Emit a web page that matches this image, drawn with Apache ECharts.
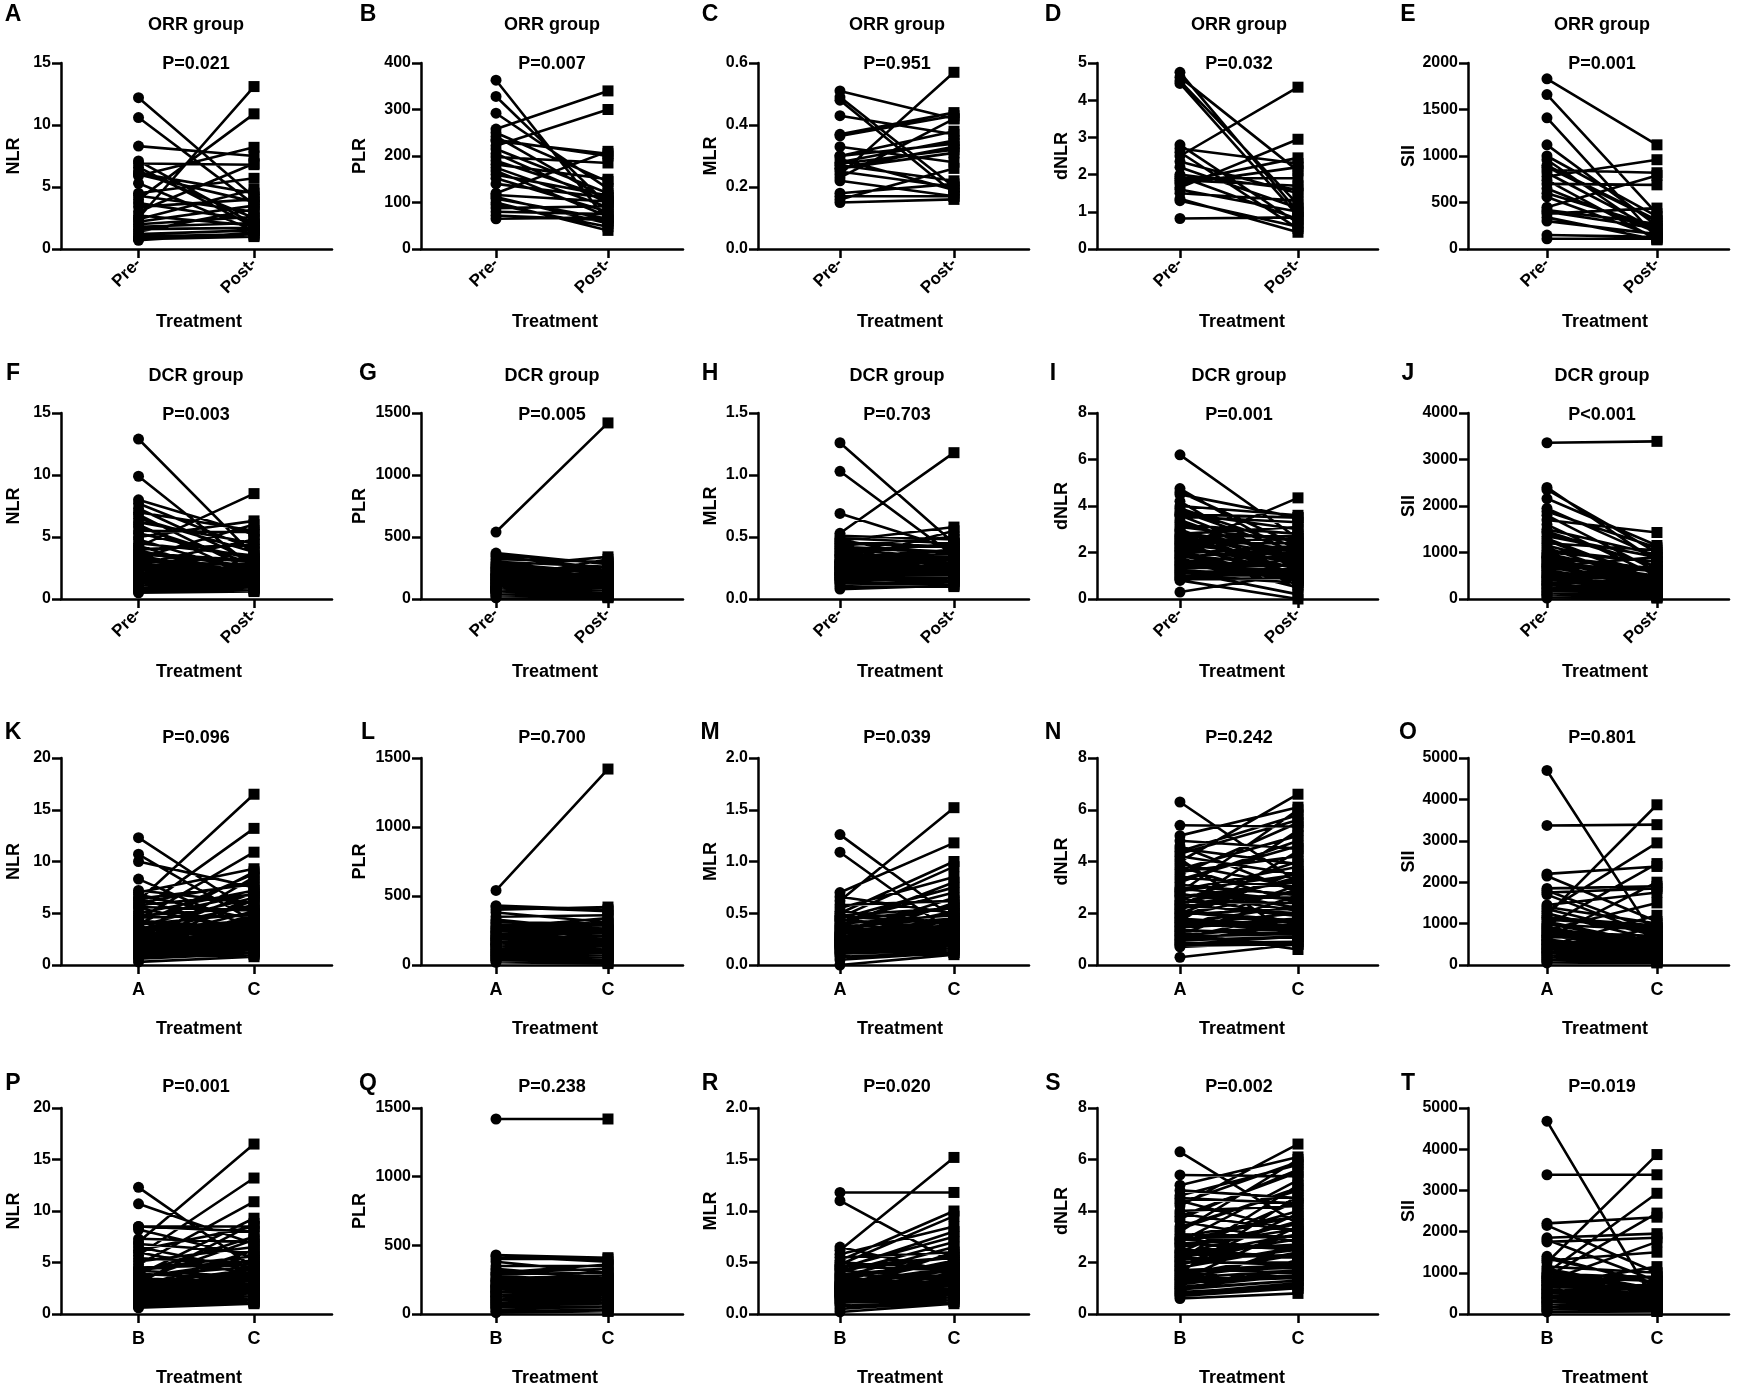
<!DOCTYPE html>
<html>
<head>
<meta charset="utf-8">
<title>Paired inflammatory markers</title>
<script src="https://cdn.jsdelivr.net/npm/echarts@6/dist/echarts.min.js"></script>
<style>
html, body { margin: 0; padding: 0; background: #fff; }
#main { width: 1737px; height: 1390px; }
</style>
</head>
<body>
<div id="main"></div>
<script>
// ---- values (one pair = one patient) ----
var A_pre  = [12.2,10.6,8.3,7.1,6.9,6.6,6.3,6.1,5.9,5.3,4.5,4.3,4.0,3.7,3.4,3.0,2.7,2.5,2.2,2.0,1.8,1.6,1.4,1.2,1.0,0.9,0.8,0.7,2.4,6.0];
var A_post = [4.2,3.6,7.5,2.0,6.8,1.8,2.5,4.5,8.2,1.5,5.7,3.0,10.9,2.3,4.0,6.9,1.9,13.1,3.5,2.6,2.1,1.7,3.2,1.5,1.2,1.1,1.0,1.3,4.8,3.8];
var B_pre  = [363,328,292,258,250,242,232,222,215,205,198,190,182,175,168,160,152,120,116,112,108,100,95,88,80,72,65,140,235];
var B_post = [60,95,130,340,145,105,205,300,120,100,185,110,150,90,70,115,80,210,102,55,65,40,48,92,75,62,68,110,200];
var C_pre  = [0.51,0.49,0.48,0.43,0.37,0.365,0.33,0.30,0.29,0.28,0.275,0.27,0.26,0.25,0.24,0.22,0.18,0.17,0.16,0.15,0.30,0.26,0.23];
var C_post = [0.42,0.20,0.18,0.37,0.44,0.43,0.28,0.34,0.19,0.35,0.32,0.22,0.31,0.20,0.57,0.17,0.21,0.17,0.26,0.16,0.38,0.33,0.42];
var D_pre  = [4.75,4.62,4.52,4.45,2.8,2.7,2.6,2.5,2.35,2.0,1.95,1.9,1.8,1.75,1.65,1.6,1.5,1.35,1.3,0.82,2.2,1.85];
var D_post = [1.0,2.1,1.2,0.9,0.7,2.3,0.55,4.35,1.5,1.6,0.8,1.9,2.45,2.2,2.95,1.0,1.3,0.45,0.6,0.85,1.1,1.7];
var E_pre  = [1830,1660,1410,1120,1000,960,880,850,820,780,740,700,650,560,450,420,400,380,340,300,150,110,900,600];
var E_post = [1120,380,120,250,350,150,300,820,200,960,100,690,180,130,790,270,220,440,100,160,130,110,310,240];

var F_pre  = [12.9,9.9,8.0,7.7,7.3,7.0,6.8,6.5,6.2,6.0,5.8,5.5,5.3,5.0,4.8,4.5,4.3,4.0,3.8,3.6,3.4,3.2,3.0,2.9,2.7,2.6,2.5,2.4,2.3,2.2,2.0,1.9,1.8,1.7,1.6,1.5,1.4,1.3,1.2,1.1,1.0,0.9,0.8,0.7,0.6,0.5,4.2,3.3,2.8,2.1,
              3.9,3.7,3.5,3.1,2.95,2.85,2.65,2.55,2.45,2.35,2.25,2.15,2.05,1.95,1.85,1.75,1.65,1.55,1.45,1.35,1.25,1.15,1.05,0.95,0.85];
var F_post = [3.5,2.5,5.2,4.0,3.0,5.5,2.2,3.8,4.5,1.8,2.8,5.4,3.2,6.3,2.0,3.5,1.5,4.4,2.6,3.0,2.2,1.9,3.3,1.6,2.4,1.4,2.9,1.2,2.0,1.7,1.5,2.1,1.3,1.8,1.1,1.6,1.2,1.0,1.4,0.9,1.1,0.8,1.0,0.9,0.7,0.6,8.5,6.0,4.8,1.3,
              2.0,3.1,1.8,2.7,1.6,2.3,1.9,2.2,1.5,2.6,1.7,1.4,2.4,1.2,1.9,1.3,2.1,1.1,1.6,1.0,1.5,1.2,0.9,1.3,1.0];
var G_pre  = [540,370,355,340,320,300,280,260,245,230,220,210,200,190,180,170,160,150,140,130,120,110,100,95,90,85,80,75,70,60,55,50,45,40,30,20,10,160,200,250,180,120,140,100,65,
              290,270,255,235,225,205,195,185,175,165,155,145,135,125,115,105,98,92,87,82,77,72,68,62,58];
var G_post = [1420,280,290,250,300,260,200,340,180,220,150,170,190,140,130,120,160,110,100,130,90,80,110,70,120,60,90,85,70,40,45,50,55,30,20,15,10,320,240,210,140,100,95,75,35,
              210,230,170,260,150,200,120,180,140,110,160,100,130,90,150,80,120,70,100,60,110,85,50,75,65];
var H_pre  = [1.26,1.03,0.69,0.53,0.51,0.49,0.47,0.45,0.43,0.41,0.39,0.37,0.35,0.33,0.31,0.30,0.29,0.28,0.27,0.26,0.25,0.24,0.23,0.22,0.21,0.20,0.19,0.18,0.17,0.16,0.15,0.14,0.13,0.12,0.10,0.08,0.30,0.25,0.35,0.20,
              0.48,0.46,0.44,0.42,0.40,0.38,0.36,0.34,0.32,0.305,0.295,0.285,0.275,0.265,0.255,0.245,0.235,0.225,0.215,0.205,0.195,0.185,0.175,0.165,0.155];
var H_post = [0.45,0.35,0.40,1.18,0.48,0.45,0.58,0.42,0.50,0.38,0.44,0.30,0.36,0.28,0.40,0.25,0.33,0.30,0.22,0.35,0.28,0.20,0.32,0.26,0.24,0.18,0.30,0.22,0.15,0.20,0.28,0.17,0.12,0.14,0.10,0.11,0.55,0.38,0.27,0.19,
              0.30,0.42,0.25,0.38,0.33,0.27,0.45,0.22,0.35,0.29,0.20,0.31,0.26,0.37,0.21,0.28,0.18,0.32,0.24,0.16,0.27,0.19,0.23,0.14,0.21];
var I_pre  = [6.2,4.75,4.6,4.5,4.2,4.0,3.8,3.65,3.55,3.4,3.2,3.0,2.9,2.8,2.6,2.5,2.4,2.3,2.2,2.1,2.0,1.9,1.8,1.7,1.6,1.5,1.4,1.3,1.2,1.1,1.0,0.9,0.85,0.8,0.3,2.7,1.75,3.6,1.45,2.05,
              3.9,3.7,3.3,3.1,2.95,2.75,2.65,2.55,2.45,2.35,2.25,2.15,1.95,1.85,1.65,1.55,1.35,1.25,1.15,1.05,0.95];
var I_post = [2.6,1.8,2.3,3.5,1.2,3.6,2.0,3.5,3.3,1.6,2.8,1.0,2.0,3.1,1.5,0.6,2.4,1.3,4.35,1.7,0.9,1.4,2.2,1.1,1.9,0.8,1.2,1.5,0.2,1.0,0.7,1.3,0.9,0.0,1.1,2.7,0.5,1.6,1.0,0.8,
              2.2,3.0,1.7,2.5,1.4,2.1,1.9,1.3,2.6,1.8,1.1,1.6,2.3,1.0,1.4,1.2,1.7,0.9,1.3,0.7,1.1];
var J_pre  = [3360,2400,2350,2160,1950,1880,1800,1700,1600,1500,1420,1300,1200,1100,1000,950,900,850,800,750,700,650,600,550,500,450,400,350,300,250,200,150,100,50,20,1250,900,700,480,320,
              1450,1350,1150,1050,980,920,870,820,770,720,670,620,570,520,470,420,380,330,280,230,180,130,80];
var J_post = [3390,800,1000,1150,900,1100,600,1430,500,950,700,400,1050,300,800,200,600,450,350,500,250,700,300,150,400,200,350,100,250,150,120,80,50,30,20,400,300,900,200,100,
              700,900,550,800,450,650,380,500,600,320,420,280,350,230,300,180,260,150,200,120,160,90,60];

var K_pre  = [12.3,10.7,10.0,8.3,7.2,7.0,6.8,6.5,6.2,6.0,5.8,5.5,5.2,5.0,4.8,4.6,4.4,4.2,4.0,3.8,3.6,3.4,3.2,3.0,2.9,2.8,2.7,2.6,2.5,2.4,2.3,2.2,2.1,2.0,1.9,1.8,1.7,1.6,1.5,1.4,1.3,1.2,1.1,1.0,0.9,0.8,0.6,0.3,6.4,5.6,3.5,2.9,4.5,3.1,
              4.3,3.9,3.7,3.3,3.05,2.85,2.65,2.45,2.35,2.25,2.15,2.05,1.95,1.85,1.75,1.65,1.55,1.45,1.35,1.25,1.15,1.05,0.95,0.85,0.7];
var K_post = [5.0,4.2,7.5,3.5,6.0,9.3,4.4,2.8,16.5,8.0,6.8,3.2,13.2,7.2,5.5,4.8,10.9,3.0,8.8,6.5,2.5,5.8,9.0,4.0,3.6,7.0,2.2,6.2,3.8,5.2,2.0,4.6,2.7,8.5,3.3,1.8,6.6,2.4,4.9,1.6,3.1,1.9,2.6,1.5,2.1,1.3,1.1,0.8,7.8,5.3,4.3,3.4,6.9,2.9,
              3.5,5.0,2.8,4.2,3.0,2.4,3.8,2.2,3.2,2.6,1.9,2.9,2.1,2.5,1.7,2.3,1.6,2.0,1.5,1.8,1.4,1.6,1.2,1.3,1.0];
var L_pre  = [540,430,420,400,380,350,330,310,290,270,250,240,230,220,210,200,190,180,170,160,150,140,130,120,110,100,90,80,70,60,50,40,30,20,260,300,190,150,125,175,
              320,280,265,245,235,215,205,195,185,165,155,145,135,115,105,95,85,75,65,55,45,35];
var L_post = [1420,400,390,420,310,360,250,300,220,340,210,260,180,230,170,190,160,200,150,140,180,120,130,110,160,100,120,90,110,70,60,80,20,10,280,240,150,130,140,200,
              250,290,200,230,180,260,150,210,170,140,190,120,160,100,130,110,90,80,70,60,50,30];
var M_pre  = [1.26,1.09,0.70,0.66,0.62,0.58,0.55,0.52,0.50,0.48,0.46,0.44,0.42,0.40,0.38,0.36,0.34,0.32,0.30,0.29,0.28,0.27,0.26,0.25,0.24,0.23,0.22,0.21,0.20,0.19,0.18,0.17,0.16,0.15,0.14,0.12,0.10,0.05,0.0,0.45,0.35,0.25,0.31,
              0.47,0.43,0.39,0.37,0.33,0.31,0.295,0.285,0.275,0.265,0.255,0.245,0.235,0.225,0.215,0.205,0.195,0.185,0.175,0.165,0.13,0.11,0.08];
var M_post = [0.45,0.30,1.18,0.50,1.52,0.62,0.85,0.40,1.00,0.55,0.95,0.35,0.70,0.48,0.80,0.30,0.58,0.42,0.65,0.25,0.52,0.38,0.45,0.28,0.60,0.33,0.22,0.40,0.30,0.26,0.35,0.20,0.28,0.18,0.24,0.15,0.20,0.12,0.10,0.75,0.50,0.37,0.44,
              0.40,0.55,0.32,0.45,0.38,0.28,0.42,0.30,0.35,0.25,0.33,0.27,0.30,0.22,0.29,0.24,0.26,0.20,0.23,0.18,0.16,0.14,0.12];
var N_pre  = [6.3,5.4,5.0,4.8,4.6,4.4,4.2,4.0,3.8,3.6,3.5,3.4,3.2,3.0,2.9,2.8,2.7,2.6,2.5,2.4,2.3,2.2,2.1,2.0,1.9,1.8,1.7,1.6,1.5,1.4,1.3,1.2,1.1,1.0,0.9,0.8,0.7,0.3,3.7,2.95,2.15,1.65,4.1,1.25,
              4.5,4.3,3.9,3.3,3.1,2.85,2.75,2.65,2.45,2.35,2.25,2.05,1.95,1.85,1.75,1.55,1.45,1.35,1.15,1.05,0.95,0.85,0.75];
var N_post = [3.2,5.35,6.1,4.5,2.8,5.8,3.5,6.6,2.4,4.2,5.5,3.0,4.8,2.2,3.8,6.0,2.6,1.9,4.0,3.3,2.0,5.2,1.7,3.6,2.9,1.5,4.4,2.3,1.8,3.1,1.4,2.7,1.2,2.1,1.6,1.1,0.9,0.8,5.0,2.5,3.4,1.3,1.0,0.6,
              3.9,5.6,3.0,4.6,2.7,3.5,2.1,3.2,2.4,1.9,2.8,1.6,2.2,3.6,1.4,2.0,1.7,1.2,1.5,1.3,1.1,0.9,0.8];
var O_pre  = [4700,3370,2200,2150,1850,1800,1750,1700,1450,1400,1300,1250,1200,1100,1000,950,900,850,800,750,700,650,600,550,500,450,400,350,300,250,200,150,100,50,1150,600,400,300,700,500,
              1350,1150,1050,980,920,870,820,770,720,670,620,570,520,470,420,380,330,280,230,180,130,80];
var O_post = [600,3390,2380,1050,1900,800,1850,700,1750,1000,2950,600,3870,900,500,2450,400,1500,700,350,600,2000,300,550,450,1200,250,400,300,200,350,150,100,50,800,250,900,200,500,150,
              700,950,500,850,450,600,380,550,320,650,280,420,250,350,200,300,180,220,150,120,100,60];

var P_pre  = [12.3,10.7,8.5,8.2,7.3,7.0,6.8,6.5,6.2,6.0,5.7,5.4,5.1,4.8,4.5,4.2,4.0,3.8,3.6,3.4,3.2,3.0,2.9,2.8,2.7,2.6,2.5,2.4,2.3,2.2,2.1,2.0,1.9,1.8,1.7,1.6,1.5,1.4,1.3,1.2,1.1,1.0,0.9,0.8,0.6,3.3,2.6,4.4,1.75,2.05,
              8.5,4.3,3.9,3.7,3.5,3.1,2.95,2.85,2.65,2.45,2.35,2.25,2.15,1.95,1.85,1.65,1.55,1.45,1.35,1.25,1.15,1.05,0.95,0.85,0.7];
var P_post = [4.5,6.8,8.0,5.5,7.0,16.5,6.0,4.2,8.5,3.8,13.2,5.0,6.5,10.9,4.8,3.6,7.5,9.3,5.2,3.2,4.0,8.8,3.0,4.4,2.8,6.2,3.4,2.5,5.8,3.1,2.2,4.6,2.7,3.5,2.0,2.6,1.8,3.3,1.6,2.4,1.5,2.1,1.3,1.2,1.0,7.2,3.9,5.6,2.9,1.9,
              8.5,5.2,3.4,4.6,2.9,4.1,3.2,2.6,3.6,2.4,3.0,2.2,2.7,2.0,2.5,1.9,2.3,1.7,2.1,1.6,1.8,1.4,1.5,1.2,1.1];
var Q_pre  = [1420,430,420,400,380,350,320,300,280,260,250,240,220,210,200,190,180,170,160,150,140,130,120,110,100,90,80,70,60,50,40,20,10,230,160,300,200,130,
              330,290,270,245,235,215,205,195,185,175,165,155,145,135,125,115,105,95,85,75,65,55,45,30];
var Q_post = [1420,410,380,400,300,350,260,330,230,280,210,250,190,240,170,220,160,200,150,180,140,130,160,110,120,90,100,70,80,40,60,30,20,270,190,360,210,110,
              260,300,220,250,190,240,170,210,150,200,130,180,120,160,100,140,90,120,80,100,70,60,50,20];
var R_pre  = [1.18,1.10,0.65,0.62,0.58,0.55,0.52,0.50,0.48,0.46,0.44,0.42,0.40,0.38,0.36,0.34,0.32,0.30,0.29,0.28,0.27,0.26,0.25,0.24,0.23,0.22,0.21,0.20,0.19,0.18,0.17,0.16,0.15,0.14,0.12,0.10,0.05,0.02,0.45,0.35,0.25,0.31,
              0.47,0.43,0.39,0.37,0.33,0.31,0.295,0.285,0.275,0.265,0.255,0.245,0.235,0.225,0.215,0.205,0.195,0.185,0.175,0.165,0.13,0.11,0.08];
var R_post = [1.18,0.50,0.40,1.52,0.85,0.60,1.00,0.45,0.95,0.55,0.80,0.35,0.70,0.48,0.65,0.30,0.58,0.42,0.52,0.25,0.38,0.45,0.28,0.60,0.33,0.22,0.40,0.30,0.26,0.35,0.20,0.28,0.18,0.24,0.15,0.20,0.12,0.10,0.75,0.50,0.37,0.44,
              0.42,0.55,0.32,0.48,0.38,0.28,0.45,0.30,0.36,0.25,0.33,0.27,0.31,0.22,0.29,0.24,0.26,0.20,0.23,0.18,0.16,0.14,0.12];
var S_pre  = [6.3,5.4,5.0,4.8,4.6,4.4,4.2,4.0,3.8,3.6,3.4,3.2,3.0,2.9,2.8,2.7,2.6,2.5,2.4,2.3,2.2,2.1,2.0,1.9,1.8,1.7,1.6,1.5,1.4,1.3,1.2,1.1,1.0,0.9,0.8,0.7,0.6,3.7,2.95,2.15,1.65,1.25,
              4.5,4.3,3.9,3.3,3.1,2.85,2.75,2.65,2.45,2.35,2.25,2.05,1.95,1.85,1.75,1.55,1.45,1.35,1.15,1.05,0.95,0.85,0.75];
var S_post = [3.5,5.35,6.1,4.5,5.8,3.2,6.6,4.2,5.5,2.8,4.8,6.0,3.8,2.5,5.2,4.0,3.3,2.2,4.4,3.6,2.9,5.0,2.0,3.1,2.6,1.9,4.6,2.4,1.7,3.4,1.5,2.7,1.3,2.1,1.2,1.0,0.8,5.6,3.0,2.3,1.8,1.4,
              4.3,5.9,3.2,4.9,3.0,3.8,2.5,3.5,2.7,2.2,3.1,1.9,2.5,3.9,1.6,2.3,2.0,1.5,1.7,1.5,1.3,1.1,1.0];
var T_pre  = [4680,3380,2200,2150,1850,1800,1750,1400,1300,1250,1100,1000,950,900,850,800,750,700,650,600,550,500,450,400,350,300,250,200,150,100,50,900,700,500,600,800,300,400,
              1350,1150,1050,980,920,870,820,770,720,670,620,570,520,470,420,380,330,280,230,180,130,80];
var T_post = [200,3380,2350,1000,1950,800,1850,700,1500,3870,600,2930,900,2450,500,1750,400,1150,600,350,700,450,300,550,250,400,200,150,350,100,60,800,300,500,200,900,250,150,
              750,1000,550,880,480,650,420,600,350,700,300,460,270,380,220,320,200,250,170,130,110,70];

// row / column text
var markers   = ['NLR', 'PLR', 'MLR', 'dNLR', 'SII'];
var rowGroups = ['ORR group', 'DCR group', '', ''];
var rowCats   = [['Pre-', 'Post-'], ['Pre-', 'Post-'], ['A', 'C'], ['B', 'C']];
var letters   = ['ABCDE', 'FGHIJ', 'KLMNO', 'PQRST'];
var pvalues   = [
  ['P=0.021', 'P=0.007', 'P=0.951', 'P=0.032', 'P=0.001'],
  ['P=0.003', 'P=0.005', 'P=0.703', 'P=0.001', 'P<0.001'],
  ['P=0.096', 'P=0.700', 'P=0.039', 'P=0.242', 'P=0.801'],
  ['P=0.001', 'P=0.238', 'P=0.020', 'P=0.002', 'P=0.019']
];
// y axis max / step / decimals per panel
var yMax  = [[15, 400, 0.6, 5, 2000], [15, 1500, 1.5, 8, 4000], [20, 1500, 2.0, 8, 5000], [20, 1500, 2.0, 8, 5000]];
var yStep = [[5, 100, 0.2, 1, 500], [5, 500, 0.5, 2, 1000], [5, 500, 0.5, 2, 1000], [5, 500, 0.5, 2, 1000]];
var yDec  = [0, 0, 1, 0, 0];
var pairs = {
  A: [A_pre, A_post], B: [B_pre, B_post], C: [C_pre, C_post], D: [D_pre, D_post], E: [E_pre, E_post],
  F: [F_pre, F_post], G: [G_pre, G_post], H: [H_pre, H_post], I: [I_pre, I_post], J: [J_pre, J_post],
  K: [K_pre, K_post], L: [L_pre, L_post], M: [M_pre, M_post], N: [N_pre, N_post], O: [O_pre, O_post],
  P: [P_pre, P_post], Q: [Q_pre, Q_post], R: [R_pre, R_post], S: [S_pre, S_post], T: [T_pre, T_post]
};

// ---- layout (pixels) ----
var colLeft  = [61, 421, 758, 1097, 1468];
var colRight = [332, 683, 1029, 1378, 1729];
var colXMin  = [-0.671, -0.670, -0.719, -0.703, -0.718];
var colXMax  = [1.675, 1.670, 1.658, 1.678, 1.655];
var colMid   = [196, 552, 897, 1239, 1602];
var letterX  = [13, 368, 710, 1053, 1408];
var yNameX   = [14, 360, 711, 1062, 1409];
var rowTop    = [63, 413, 758, 1108];
var rowBottom = [249, 599, 965, 1314];
var letterY   = [15, 374, 733, 1084];
var groupY    = [25, 376, 0, 0];
var pY        = [64, 415, 738, 1087];
var treatY    = [322, 672, 1029, 1378];

var FONT = 'Arial, "Liberation Sans", sans-serif';
function font(sz) { return 'bold ' + sz + 'px ' + FONT; }

var grids = [], xAxes = [], yAxes = [], series = [], texts = [];

function addText(str, x, y, size, rot) {
  texts.push({
    type: 'text', x: x, y: y, rotation: rot || 0, silent: true,
    style: { text: str, font: font(size), fill: '#000', textAlign: 'center', textVerticalAlign: 'middle' }
  });
}

for (var r = 0; r < 4; r++) {
  for (var c = 0; c < 5; c++) {
    var idx = grids.length;
    var id = letters[r][c];
    var cats = rowCats[r];
    var rotated = r < 2;
    var dec = yDec[c];

    grids.push({
      left: colLeft[c], top: rowTop[r],
      width: colRight[c] - colLeft[c], height: rowBottom[r] - rowTop[r],
      containLabel: false, outerBoundsMode: 'none'
    });

    xAxes.push({
      gridIndex: idx, type: 'value', min: colXMin[c], max: colXMax[c],
      axisLine: { show: true, onZero: false, lineStyle: { color: '#000', width: 2.5 } },
      axisTick: { show: true, inside: false, length: 9, customValues: [0, 1], lineStyle: { color: '#000', width: 2.5 } },
      axisLabel: {
        show: true, customValues: [0, 1], rotate: rotated ? 45 : 0, margin: rotated ? 12 : 16,
        color: '#000', fontFamily: FONT, fontWeight: 'bold', fontSize: rotated ? 17 : 18,
        formatter: (function (cs) { return function (v) { return cs[Math.round(v)] || ''; }; })(cats)
      },
      splitLine: { show: false }
    });

    yAxes.push({
      gridIndex: idx, type: 'value', min: 0, max: yMax[r][c], interval: yStep[r][c],
      axisLine: { show: true, onZero: false, lineStyle: { color: '#000', width: 2.5 } },
      axisTick: { show: true, length: 9, lineStyle: { color: '#000', width: 2.5 } },
      axisLabel: {
        color: '#000', fontFamily: FONT, fontWeight: 'bold', fontSize: 16, margin: 10,
        formatter: (function (d) { return function (v) { return v.toFixed(d); }; })(dec)
      },
      splitLine: { show: false }
    });

    // one polyline per panel, broken between patients
    var pre = pairs[id][0], post = pairs[id][1];
    var data = [];
    for (var i = 0; i < pre.length; i++) {
      data.push([0, pre[i]], [1, post[i]], ['-', '-']);
    }
    series.push({
      type: 'line', xAxisIndex: idx, yAxisIndex: idx, data: data,
      connectNulls: false, clip: false, silent: true,
      symbol: function (val) { return val[0] === 0 ? 'circle' : 'rect'; },
      symbolSize: 11, showSymbol: true,
      lineStyle: { color: '#000', width: 2.6 },
      itemStyle: { color: '#000', borderWidth: 0 }
    });

    // panel texts
    addText(id, letterX[c], letterY[r], 23);
    if (rowGroups[r]) addText(rowGroups[r], colMid[c], groupY[r], 18);
    addText(pvalues[r][c], colMid[c], pY[r], 18);
    addText('Treatment', colMid[c] + 3, treatY[r], 18);
    addText(markers[c], yNameX[c], (rowTop[r] + rowBottom[r]) / 2, 18, Math.PI / 2);
  }
}

var chart = echarts.init(document.getElementById('main'), null, { renderer: 'canvas' });
chart.setOption({
  animation: false,
  backgroundColor: '#fff',
  grid: grids,
  xAxis: xAxes,
  yAxis: yAxes,
  series: series,
  graphic: { elements: texts }
});
</script>
</body>
</html>
